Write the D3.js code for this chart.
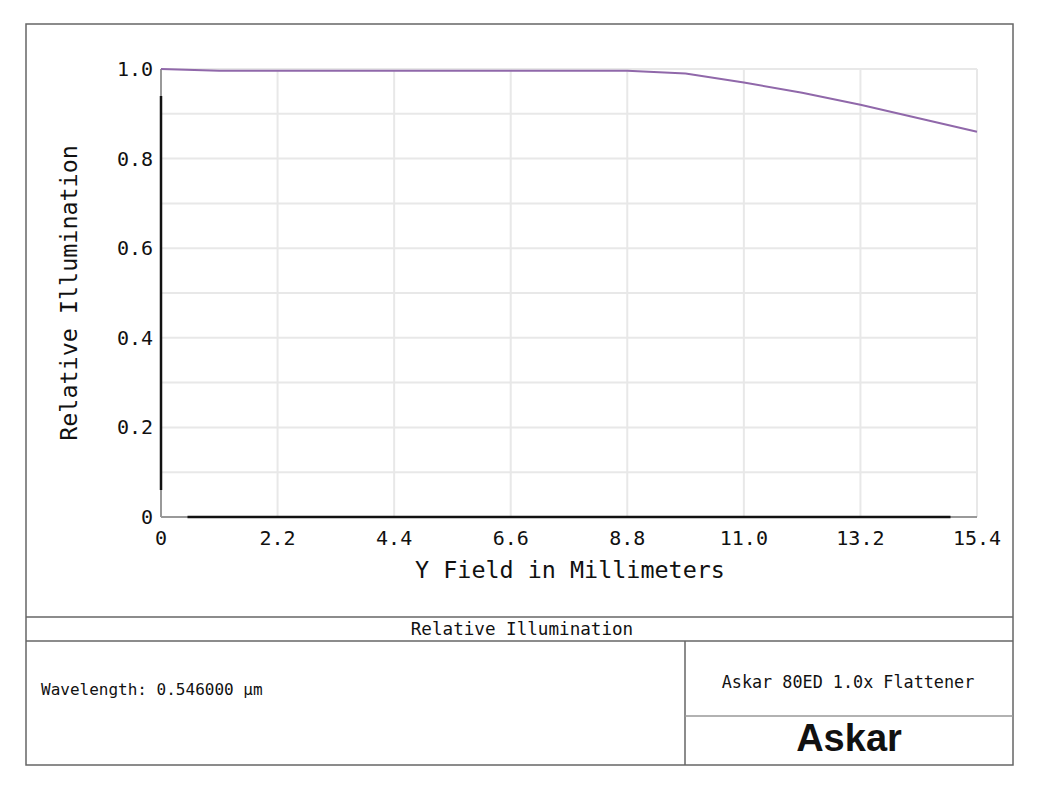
<!DOCTYPE html>
<html><head><meta charset="utf-8">
<script src="https://cdn.jsdelivr.net/npm/d3@7"></script>
<style>body{margin:0;background:#fff}svg{display:block}</style>
</head><body>
<svg id="c" width="1040" height="786"></svg>
<script>
const fieldMm = [0, 1.1, 2.2, 3.3, 4.4, 5.5, 6.6, 7.7, 8.8, 9.9, 11.0, 12.1, 13.2, 14.3, 15.4];
const relIllum = [1.0, 0.996, 0.996, 0.996, 0.996, 0.996, 0.996, 0.996, 0.996, 0.990, 0.970, 0.947, 0.920, 0.890, 0.860];
const xTicks = [0, 2.2, 4.4, 6.6, 8.8, 11.0, 13.2, 15.4];
const xTickLabels = ["0", "2.2", "4.4", "6.6", "8.8", "11.0", "13.2", "15.4"];
const yTicks = [0, 0.2, 0.4, 0.6, 0.8, 1.0];
const yTickLabels = ["0", "0.2", "0.4", "0.6", "0.8", "1.0"];
const yGrid = [0.1,0.2,0.3,0.4,0.5,0.6,0.7,0.8,0.9,1.0];

const svg = d3.select("#c");
const mono = "'DejaVu Sans Mono', 'Liberation Mono', monospace";
const x = d3.scaleLinear().domain([0, 15.4]).range([161, 977]);
const y = d3.scaleLinear().domain([0, 1]).range([517, 69]);

// grid
svg.append("g").selectAll("line").data(yGrid).join("line")
  .attr("x1", x(0)).attr("x2", x(15.4)).attr("y1", d => y(d)).attr("y2", d => y(d))
  .attr("stroke", "#e8e8e8").attr("stroke-width", 2);
svg.append("g").selectAll("line").data(xTicks.slice(1)).join("line")
  .attr("x1", d => x(d)).attr("x2", d => x(d)).attr("y1", y(0)).attr("y2", y(1))
  .attr("stroke", "#e8e8e8").attr("stroke-width", 2);

// axes lines
svg.append("line").attr("x1", x(0)).attr("x2", x(15.4)).attr("y1", y(0)).attr("y2", y(0))
  .attr("stroke", "#999").attr("stroke-width", 2);
svg.append("line").attr("x1", x(0.5)).attr("x2", x(14.9)).attr("y1", y(0)).attr("y2", y(0))
  .attr("stroke", "#111").attr("stroke-width", 2.5);
svg.append("line").attr("x1", x(0)).attr("x2", x(0)).attr("y1", y(0)).attr("y2", y(1))
  .attr("stroke", "#999").attr("stroke-width", 2);
svg.append("line").attr("x1", x(0)).attr("x2", x(0)).attr("y1", y(0.06)).attr("y2", y(0.94))
  .attr("stroke", "#111").attr("stroke-width", 2.5);

// tick labels
svg.append("g").selectAll("text").data(xTicks).join("text")
  .attr("x", d => x(d)).attr("y", 545).attr("text-anchor", "middle")
  .attr("font-family", mono).attr("font-size", 20).attr("fill", "#111")
  .text((d, i) => xTickLabels[i]);
svg.append("g").selectAll("text").data(yTicks).join("text")
  .attr("x", 153).attr("y", d => y(d) + 7).attr("text-anchor", "end")
  .attr("font-family", mono).attr("font-size", 20).attr("fill", "#111")
  .text((d, i) => yTickLabels[i]);

// axis titles
svg.append("text").attr("x", 570).attr("y", 578).attr("text-anchor", "middle")
  .attr("font-family", mono).attr("font-size", 23.4).attr("fill", "#111")
  .text("Y Field in Millimeters");
svg.append("text").attr("transform", "translate(77,293) rotate(-90)").attr("text-anchor", "middle")
  .attr("font-family", mono).attr("font-size", 23.4).attr("fill", "#111")
  .text("Relative Illumination");

// curve
const line = d3.line().x((d, i) => x(fieldMm[i])).y(d => y(d));
svg.append("path").datum(relIllum).attr("d", line)
  .attr("fill", "none").attr("stroke", "#9068aa").attr("stroke-width", 2);

// frame
const fr = svg.append("g").attr("stroke", "#666").attr("stroke-width", 1.5).attr("fill", "none");
fr.append("rect").attr("x", 26).attr("y", 24).attr("width", 987).attr("height", 741);
fr.append("line").attr("x1", 26).attr("x2", 1013).attr("y1", 617).attr("y2", 617);
fr.append("line").attr("x1", 26).attr("x2", 1013).attr("y1", 641).attr("y2", 641);
fr.append("line").attr("x1", 685).attr("x2", 685).attr("y1", 641).attr("y2", 765);
fr.append("line").attr("x1", 685).attr("x2", 1013).attr("y1", 716).attr("y2", 716).attr("stroke", "#999");

svg.append("text").attr("x", 522).attr("y", 635).attr("text-anchor", "middle")
  .attr("font-family", mono).attr("font-size", 17.6).attr("fill", "#111").text("Relative Illumination");
svg.append("text").attr("x", 41).attr("y", 695)
  .attr("font-family", mono).attr("font-size", 16).attr("fill", "#111").text("Wavelength: 0.546000 µm");
svg.append("text").attr("x", 848).attr("y", 688).attr("text-anchor", "middle")
  .attr("font-family", mono).attr("font-size", 16.8).attr("fill", "#111").text("Askar 80ED 1.0x Flattener");
svg.append("text").attr("x", 849).attr("y", 751).attr("text-anchor", "middle")
  .attr("font-family", "'Liberation Sans', Arial, sans-serif").attr("font-weight", "bold")
  .attr("font-size", 38).attr("fill", "#111").text("Askar");
</script>
</body></html>
